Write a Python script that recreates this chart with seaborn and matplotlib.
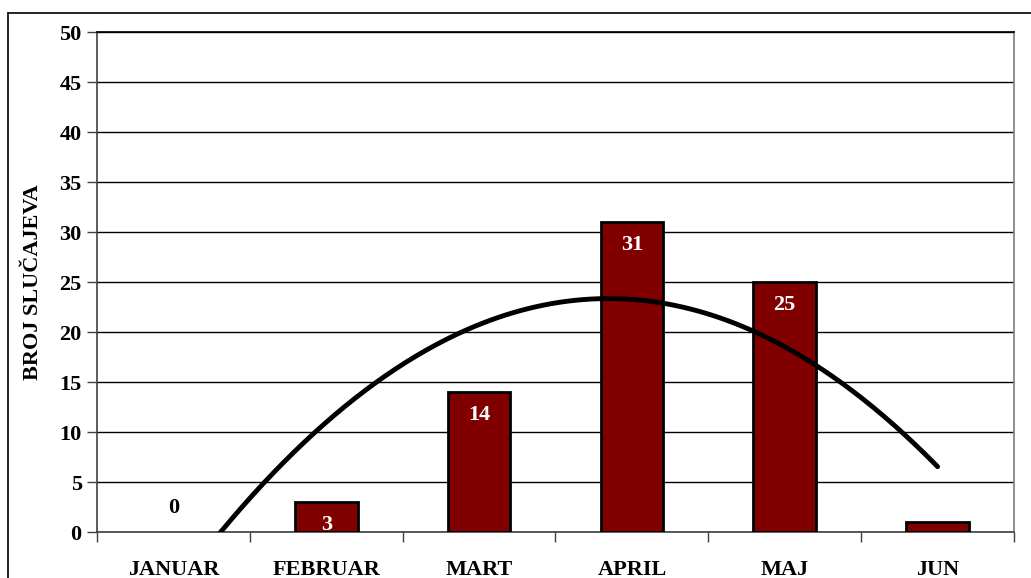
import numpy as np
import pandas as pd
import matplotlib
matplotlib.use("Agg")
import matplotlib.pyplot as plt
from matplotlib.lines import Line2D
import seaborn as sns

# data
months = ["JANUAR", "FEBRUAR", "MART", "APRIL", "MAJ", "JUN"]
cases = [0, 3, 14, 31, 25, 1]
y_ticks = [0, 5, 10, 15, 20, 25, 30, 35, 40, 45, 50]
y_label = "BROJ SLUČAJEVA"

sns.set_theme(style="white")
plt.rcParams["font.family"] = ["Liberation Serif", "DejaVu Serif"]
plt.rcParams["font.weight"] = "bold"
plt.rcParams["text.color"] = "black"
plt.rcParams["axes.labelcolor"] = "black"
plt.rcParams["xtick.labelcolor"] = "black"
plt.rcParams["ytick.labelcolor"] = "black"
fs = 16

df = pd.DataFrame({"month": months, "cases": cases})

fig = plt.figure(figsize=(10.31, 5.78), dpi=100)
ax = fig.add_axes([97 / 1031, 46 / 578, 917 / 1031, 500 / 578])

# bars
sns.barplot(data=df, x="month", y="cases", color="#800000", saturation=1,
            edgecolor="black", linewidth=2, width=0.41, ax=ax, zorder=3)
for p in ax.patches:
    if p.get_height() == 0:
        p.set_visible(False)

# second order polynomial trendline (as in a spreadsheet)
pos = np.arange(len(cases))
coef = np.polyfit(pos + 1, cases, 2)
xs = np.linspace(0, len(cases) - 1, 300)
ax.plot(xs, np.polyval(coef, xs + 1), color="black", lw=3.5, zorder=5,
        solid_capstyle="round")

# value labels
for i, v in enumerate(cases):
    if v == 0:
        ax.text(i, 2.4, str(v), ha="center", va="center", color="black",
                fontsize=fs, fontweight="bold", zorder=6)
    else:
        ax.text(i, v - 2.3, str(v), ha="center", va="center", color="white",
                fontsize=fs, fontweight="bold", zorder=4)

# axes
ax.set_ylim(0, 50)
ax.set_xlim(-0.5, len(months) - 0.5)
ax.set_yticks(y_ticks)
ax.yaxis.grid(True, color="black", lw=1)
ax.set_axisbelow(True)
ax.set_xlabel("")
ax.set_ylabel(y_label, fontsize=fs, fontweight="bold", labelpad=12, color="black")
ax.set_xticks(pos)
ax.set_xticks(np.arange(-0.5, len(months)), minor=True)
ax.tick_params(axis="x", which="major", length=0, pad=20, labelsize=fs,
               labelcolor="black")
ax.tick_params(axis="x", which="minor", length=7, width=1, color="#404040",
               direction="out", bottom=True)
ax.tick_params(axis="y", length=7, width=1, color="#404040", direction="out",
               left=True, labelsize=fs, pad=4, labelcolor="black")
for lab in ax.get_xticklabels() + ax.get_yticklabels():
    lab.set_fontweight("bold")

for side in ["left", "bottom"]:
    ax.spines[side].set_color("#404040")
    ax.spines[side].set_linewidth(1.2)
ax.spines["top"].set_color("black")
ax.spines["right"].set_color("#808080")

# outer chart frame
fig.add_artist(Line2D([8 / 1031, 8 / 1031], [0, 1 - 13 / 578], color="black", lw=1.2))
fig.add_artist(Line2D([8 / 1031, 1], [1 - 13 / 578, 1 - 13 / 578], color="black", lw=1.2))

fig.savefig("out.png", dpi=100)
